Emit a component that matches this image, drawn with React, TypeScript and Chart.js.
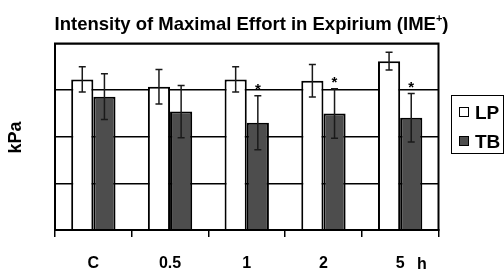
import React, { useEffect, useRef } from "react";
import { Chart, registerables } from "chart.js";

Chart.register(...registerables);

const categories = ["C", "0.5", "1", "2", "5"];
const lpValues = [3.23, 3.07, 3.23, 3.2, 3.62];
const lpErrors = [0.27, 0.37, 0.27, 0.35, 0.19];
const tbValues = [2.86, 2.54, 2.3, 2.5, 2.41];
const tbErrors = [0.49, 0.56, 0.58, 0.53, 0.52];
const tbSignificant = [false, false, true, true, true];
const seriesLabels = ["LP", "TB"];
const titleMain = "Intensity of Maximal Effort in Expirium (IME";
const titleSup = "+";
const titleEnd = ")";
const yAxisTitle = "kPa";
const unitLabel = "h";

const FONT = "'Liberation Sans', Arial, sans-serif";

export default function App() {
  const ref = useRef<HTMLCanvasElement | null>(null);

  useEffect(() => {
    const canvas = ref.current;
    if (!canvas) return;
    const errorsByDataset = [lpErrors, tbErrors];

    const overlay = {
      id: "overlay",
      afterDatasetsDraw(chart: any) {
        const ctx = chart.ctx;
        const y = chart.scales.y;
        ctx.save();
        chart.data.datasets.forEach((ds: any, di: number) => {
          const meta = chart.getDatasetMeta(di);
          meta.data.forEach((el: any, i: number) => {
            const v = ds.data[i];
            const e = errorsByDataset[di][i];
            const top = y.getPixelForValue(v + e);
            const bot = y.getPixelForValue(v - e);
            ctx.strokeStyle = "#1a1a1a";
            ctx.lineWidth = 1.5;
            ctx.beginPath();
            ctx.moveTo(el.x, top);
            ctx.lineTo(el.x, bot);
            ctx.moveTo(el.x - 3.5, top);
            ctx.lineTo(el.x + 3.5, top);
            ctx.moveTo(el.x - 3.5, bot);
            ctx.lineTo(el.x + 3.5, bot);
            ctx.stroke();
            if (di === 1 && tbSignificant[i]) {
              ctx.fillStyle = "#000";
              ctx.font = `bold 15px ${FONT}`;
              ctx.textAlign = "center";
              ctx.textBaseline = "alphabetic";
              ctx.fillText("*", el.x, top - 1.5);
            }
          });
        });
        ctx.restore();
      },
      afterDraw(chart: any) {
        const ctx = chart.ctx;
        const a = chart.chartArea;
        ctx.save();
        // frame
        ctx.strokeStyle = "#000";
        ctx.lineWidth = 2;
        ctx.strokeRect(a.left, a.top, a.right - a.left, a.bottom - a.top);

        // title with superscript
        ctx.fillStyle = "#000";
        ctx.textBaseline = "alphabetic";
        ctx.textAlign = "left";
        const mainFont = `bold 18.5px ${FONT}`;
        const supFont = `bold 11px ${FONT}`;
        ctx.font = mainFont;
        const w1 = ctx.measureText(titleMain).width;
        const w3 = ctx.measureText(titleEnd).width;
        ctx.font = supFont;
        const w2 = ctx.measureText(titleSup).width;
        const total = w1 + w2 + w3;
        let tx = 251.5 - total / 2;
        const ty = 29.5;
        ctx.font = mainFont;
        ctx.fillText(titleMain, tx, ty);
        tx += w1;
        ctx.font = supFont;
        ctx.fillText(titleSup, tx, ty - 8);
        tx += w2;
        ctx.font = mainFont;
        ctx.fillText(titleEnd, tx, ty);

        // y axis title
        ctx.save();
        ctx.translate(16, 137.5);
        ctx.rotate(-Math.PI / 2);
        ctx.font = `bold 18px ${FONT}`;
        ctx.textAlign = "center";
        ctx.textBaseline = "middle";
        ctx.fillText(yAxisTitle, 0, 0);
        ctx.restore();

        // unit label after last category
        ctx.font = `bold 16px ${FONT}`;
        ctx.textAlign = "center";
        ctx.textBaseline = "alphabetic";
        ctx.fillText(unitLabel, 422, 268.5);

        // legend
        ctx.lineWidth = 1;
        ctx.strokeStyle = "#000";
        ctx.strokeRect(451.5, 95.5, 52, 58);
        chart.data.datasets.forEach((ds: any, di: number) => {
          const by = di === 0 ? 107.5 : 136.5;
          ctx.fillStyle = ds.backgroundColor;
          ctx.fillRect(459.5, by, 9, 9);
          ctx.strokeRect(459.5, by, 9, 9);
          ctx.fillStyle = "#000";
          ctx.font = `bold 19px ${FONT}`;
          ctx.textAlign = "left";
          ctx.textBaseline = "alphabetic";
          ctx.fillText(ds.label, 475, by + 11.5);
        });
        ctx.restore();
      },
    };

    const chart = new Chart(canvas, {
      type: "bar",
      data: {
        labels: categories,
        datasets: [
          {
            label: seriesLabels[0],
            data: lpValues,
            backgroundColor: "#ffffff",
            borderColor: "#000000",
            borderWidth: 2,
          },
          {
            label: seriesLabels[1],
            data: tbValues,
            backgroundColor: "#4d4d4d",
            borderColor: "#000000",
            borderWidth: 2,
          },
        ],
      },
      options: {
        animation: false,
        responsive: false,
        events: [],
        datasets: { bar: { categoryPercentage: 0.578, barPercentage: 1 } },
        layout: { padding: { left: 55, right: 65.5, top: 43.5, bottom: 0 } },
        plugins: {
          legend: { display: false },
          title: { display: false },
          tooltip: { enabled: false },
        },
        scales: {
          x: {
            grid: {
              offset: true,
              drawOnChartArea: false,
              drawTicks: true,
              tickLength: 7,
              color: "#000",
              lineWidth: 1.5,
            },
            border: { display: true, color: "#000", width: 2 },
            ticks: {
              color: "#000",
              padding: 17,
              font: { size: 16, weight: "bold", family: FONT },
            },
            afterFit: (s: any) => {
              s.height = 41;
            },
          },
          y: {
            min: 0,
            max: 4,
            ticks: { display: false, stepSize: 1 },
            grid: { color: "#000", lineWidth: 1.5, drawTicks: false },
            border: { display: false },
            afterFit: (s: any) => {
              s.width = 0;
            },
          },
        },
      },
      plugins: [overlay],
    });
    return () => chart.destroy();
  }, []);

  return (
    <div style={{ position: "fixed", left: 0, top: 0, width: 504, height: 271, background: "#fff" }}>
      <canvas ref={ref} width={504} height={271} />
    </div>
  );
}
